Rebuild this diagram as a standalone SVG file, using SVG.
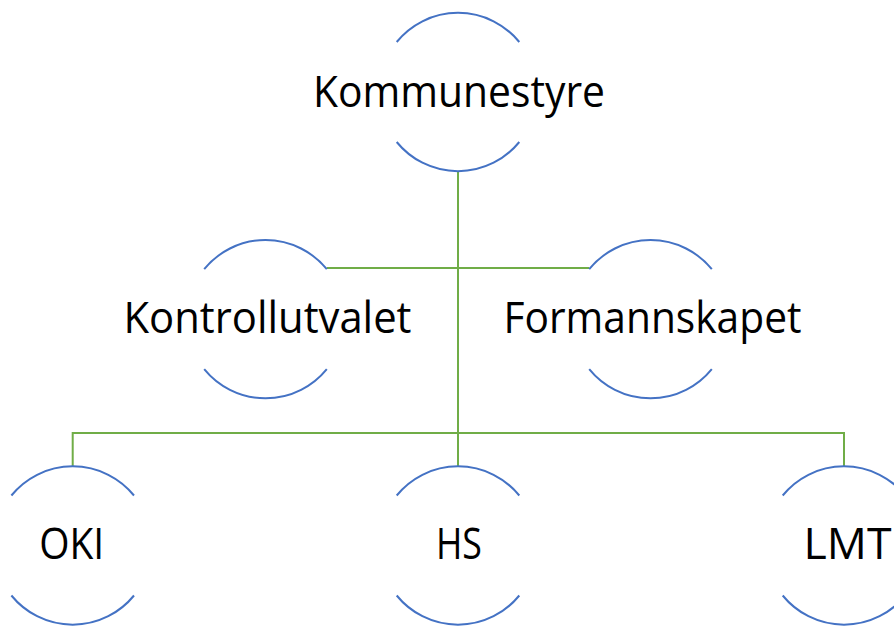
<svg xmlns="http://www.w3.org/2000/svg" xmlns:xlink="http://www.w3.org/1999/xlink" width="894" height="626" viewBox="0 0 894 626">
  <style>
    .arc { fill: none; stroke: #4472C4; stroke-width: 2; }
    .conn { fill: none; stroke: #70AD47; stroke-width: 2; }
    .label { font-family: "Open Sans", "Noto Sans", "Liberation Sans", sans-serif; font-size: 43px; fill: #000000; text-anchor: middle; }
  </style>
  <defs>
    <path id="ring" class="arc" d="M -61.3 -50 A 79 79 0 0 1 61.3 -50 M -61.3 50 A 79 79 0 0 0 61.3 50"/>
  </defs>
  <rect width="894" height="626" fill="#ffffff"/>
  <g id="connectors">
    <path class="conn" d="M 458 171 V 466.5"/>
    <path class="conn" d="M 326.8 268 H 589.2"/>
    <path class="conn" d="M 72.7 466.5 V 433 H 844 V 466.5"/>
  </g>
  <g id="node-kommunestyre" transform="translate(458,92)">
    <use href="#ring" xlink:href="#ring"/>
    <text class="label" x="1" y="14.7" textLength="292" lengthAdjust="spacingAndGlyphs">Kommunestyre</text>
  </g>
  <g id="node-kontrollutvalet" transform="translate(265.5,319.2)">
    <use href="#ring" xlink:href="#ring"/>
    <text class="label" x="2" y="14.1" textLength="288" lengthAdjust="spacingAndGlyphs">Kontrollutvalet</text>
  </g>
  <g id="node-formannskapet" transform="translate(650.5,319.2)">
    <use href="#ring" xlink:href="#ring"/>
    <text class="label" x="2" y="14.1" textLength="298" lengthAdjust="spacingAndGlyphs">Formannskapet</text>
  </g>
  <g id="node-oki" transform="translate(72.7,545.5)">
    <use href="#ring" xlink:href="#ring"/>
    <text class="label" x="-1" y="13.5" textLength="65" lengthAdjust="spacingAndGlyphs">OKI</text>
  </g>
  <g id="node-hs" transform="translate(458,545.5)">
    <use href="#ring" xlink:href="#ring"/>
    <text class="label" x="1" y="13.5" textLength="46" lengthAdjust="spacingAndGlyphs">HS</text>
  </g>
  <g id="node-lmt" transform="translate(844,545.5)">
    <use href="#ring" xlink:href="#ring"/>
    <text class="label" x="3.5" y="13.5" textLength="88" lengthAdjust="spacingAndGlyphs">LMT</text>
  </g>
</svg>
